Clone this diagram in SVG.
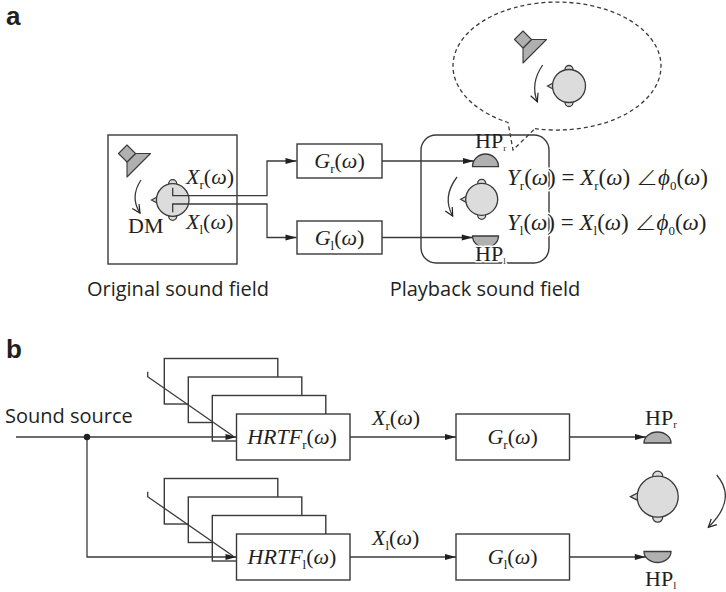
<svg xmlns="http://www.w3.org/2000/svg" width="726" height="592" viewBox="0 0 726 592">
<style>
.ln{fill:none;stroke:#3a3a3a;stroke-width:1.3}
.box{fill:#fff;stroke:#3a3a3a;stroke-width:1.4}
.dash{fill:none;stroke:#3a3a3a;stroke-width:1.3;stroke-dasharray:4 3}
.head{fill:#dcdcdc;stroke:#3a3a3a;stroke-width:1.3}
.spk{fill:#b0b0b0;stroke:#3a3a3a;stroke-width:1.1;stroke-linejoin:round}
.hp{fill:#b0b0b0;stroke:#3a3a3a;stroke-width:1.3}
.m{font-family:"Liberation Serif","Times New Roman",serif;font-size:22px;fill:#231f20}
.eq{font-size:23px}
.i{font-style:italic}
.s{font-size:13px}
.ang{font-family:"Noto Sans CJK JP","Noto Sans CJK SC",sans-serif;font-weight:300;font-size:22px}
.sans{font-family:"Open Sans","Liberation Sans",sans-serif;font-size:20px;fill:#231f20}
.lbl{font-family:"Liberation Sans",Arial,sans-serif;font-weight:bold;font-size:26px;fill:#231f20}
.halo{stroke:#fff;stroke-width:3;paint-order:stroke;stroke-linejoin:round}
</style>
<defs>
  <marker id="arr" markerUnits="userSpaceOnUse" markerWidth="12" markerHeight="8" refX="11" refY="4" orient="auto" overflow="visible">
    <path d="M0,1 L11,4 L0,7 Z" fill="#231f20"/>
  </marker>
  <marker id="open" markerUnits="userSpaceOnUse" markerWidth="10" markerHeight="10" refX="8" refY="4" orient="auto" overflow="visible">
    <path d="M0,0 L8,4 L0,8" fill="none" stroke="#231f20" stroke-width="1.2"/>
  </marker>
  <!-- loudspeaker: rotated square body with a cone facing down-right -->
  <g id="speaker">
    <path class="spk" d="M8.5,0 L23.5,0 L0,23.5 L0,8.5 Z"/>
    <path class="spk" d="M0,-8.5 L8.5,0 L0,8.5 L-8.5,0 Z"/>
  </g>
</defs>

<!-- panel letters -->
<text class="lbl" x="6" y="25">a</text>
<text class="lbl" x="6" y="358">b</text>

<!-- ===== panel a ===== -->
<g id="original-field">
  <rect class="box" x="108" y="135" width="129" height="129"/>
  <use href="#speaker" x="127" y="153.5"/>
  <path class="ln" d="M141,180 Q129.7,197 140,213" marker-end="url(#open)"/>
</g>
<g id="dummy-head">
  <circle class="head" cx="172.7" cy="183.7" r="4"/>
  <circle class="head" cx="172.7" cy="216.3" r="4"/>
  <polygon class="head" points="151.5,200 158,196.5 158,203.5"/>
  <circle class="head" cx="172.7" cy="200" r="16.3"/>
  <text class="m" x="128" y="233" font-size="15">DM</text>
  <text class="m" x="186" y="184"><tspan class="i">X</tspan><tspan class="s" dy="5">r</tspan><tspan dy="-5">(</tspan><tspan class="i">ω</tspan>)</text>
  <text class="m" x="186" y="229"><tspan class="i">X</tspan><tspan class="s" dy="5">l</tspan><tspan dy="-5">(</tspan><tspan class="i">ω</tspan>)</text>
</g>
<text class="sans" x="178" y="296" text-anchor="middle">Original sound field</text>

<g id="filter-gr-a">
  <rect class="box" x="297" y="144" width="85" height="34"/>
  <text class="m" x="339.5" y="168" text-anchor="middle"><tspan class="i">G</tspan><tspan class="s" dy="5">r</tspan><tspan dy="-5">(</tspan><tspan class="i">ω</tspan>)</text>
</g>
<g id="filter-gl-a">
  <rect class="box" x="297" y="221" width="85" height="33"/>
  <text class="m" x="339.5" y="244.5" text-anchor="middle"><tspan class="i">G</tspan><tspan class="s" dy="5">l</tspan><tspan dy="-5">(</tspan><tspan class="i">ω</tspan>)</text>
</g>

<g id="playback-field">
  <rect class="box" x="421" y="135" width="128" height="128" rx="15"/>
  <path class="dash" d="M535,128.6 A104,64 0 1 0 508,122.5 L513,150 Z"/>
  <path class="ln" d="M457,177 Q441.9,197 452.7,216" marker-end="url(#open)"/>
  <circle class="head" cx="481.7" cy="183.3" r="4"/>
  <circle class="head" cx="481.7" cy="215.3" r="4"/>
  <polygon class="head" points="460.7,199.3 467.2,195.8 467.2,202.8"/>
  <circle class="head" cx="481.7" cy="199.3" r="16"/>
  <path class="hp" d="M472.5,166.7 A13,12.7 0 0 1 498.5,166.7 Z"/>
  <path class="hp" d="M472.5,236 A13,11.5 0 0 0 498.5,236 Z"/>
  <text class="m" x="475" y="148" font-size="14">HP<tspan font-size="9" dy="3">r</tspan></text>
  <text class="m halo" x="475" y="261" font-size="14">HP<tspan font-size="9" dy="3">l</tspan></text>
  <text class="m eq halo" x="507" y="185"><tspan class="i">Y</tspan><tspan class="s" dy="5">r</tspan><tspan dy="-5">(</tspan><tspan class="i">ω</tspan><tspan>) = </tspan><tspan class="i">X</tspan><tspan class="s" dy="5">r</tspan><tspan dy="-5">(</tspan><tspan class="i">ω</tspan><tspan>) </tspan><tspan class="ang">∠</tspan><tspan class="i">ϕ</tspan><tspan class="s" dy="5">0</tspan><tspan dy="-5">(</tspan><tspan class="i">ω</tspan>)</text>
  <text class="m eq halo" x="507" y="230"><tspan class="i">Y</tspan><tspan class="s" dy="5">l</tspan><tspan dy="-5">(</tspan><tspan class="i">ω</tspan><tspan>) = </tspan><tspan class="i">X</tspan><tspan class="s" dy="5">l</tspan><tspan dy="-5">(</tspan><tspan class="i">ω</tspan><tspan>) </tspan><tspan class="ang">∠</tspan><tspan class="i">ϕ</tspan><tspan class="s" dy="5">0</tspan><tspan dy="-5">(</tspan><tspan class="i">ω</tspan>)</text>
</g>
<text class="sans" x="485" y="296" text-anchor="middle">Playback sound field</text>

<g id="virtual-field">
  <use href="#speaker" x="523" y="39.5"/>
  <path class="ln" d="M542.7,65 Q530,83.3 537.3,101.7" marker-end="url(#open)"/>
  <circle class="head" cx="569" cy="69.5" r="4"/>
  <circle class="head" cx="569" cy="102.5" r="4"/>
  <polygon class="head" points="547.5,86 554,82.5 554,89.5"/>
  <circle class="head" cx="569" cy="86" r="16.5"/>
</g>

<g id="connectors-a">
  <path class="ln" d="M172.7,187.7 V195.7 H267 V161 H296.5" marker-end="url(#arr)"/>
  <path class="ln" d="M172.7,212.3 V204 H267 V237.5 H296.5" marker-end="url(#arr)"/>
  <path class="ln" d="M382,161 H474" marker-end="url(#arr)"/>
  <path class="ln" d="M382,237.5 H472.8" marker-end="url(#arr)"/>
</g>

<!-- ===== panel b ===== -->
<text class="sans" x="5" y="423" font-size="20.5">Sound source</text>

<g id="hrtf-r">
  <rect class="box" x="164.3" y="358.5" width="113.5" height="45.5"/>
  <rect class="box" x="188.3" y="377" width="113.5" height="45.5"/>
  <rect class="box" x="212.3" y="395.5" width="113.5" height="45.5"/>
  <rect class="box" x="236.5" y="414" width="113.5" height="46"/>
  <text class="m" x="292" y="444" text-anchor="middle"><tspan class="i">HRTF</tspan><tspan class="s" dy="5">r</tspan><tspan dy="-5">(</tspan><tspan class="i">ω</tspan>)</text>
</g>
<g id="hrtf-l">
  <rect class="box" x="164.3" y="478.5" width="113.5" height="45.5"/>
  <rect class="box" x="188.3" y="497" width="113.5" height="45.5"/>
  <rect class="box" x="212.3" y="515.5" width="113.5" height="45.5"/>
  <rect class="box" x="236.5" y="534" width="113.5" height="46"/>
  <text class="m" x="292" y="564" text-anchor="middle"><tspan class="i">HRTF</tspan><tspan class="s" dy="5">l</tspan><tspan dy="-5">(</tspan><tspan class="i">ω</tspan>)</text>
</g>
<g id="filter-gr-b">
  <rect class="box" x="456" y="414" width="113.5" height="46"/>
  <text class="m" x="512.7" y="444" text-anchor="middle"><tspan class="i">G</tspan><tspan class="s" dy="5">r</tspan><tspan dy="-5">(</tspan><tspan class="i">ω</tspan>)</text>
</g>
<g id="filter-gl-b">
  <rect class="box" x="456" y="534" width="113.5" height="46"/>
  <text class="m" x="512.7" y="564" text-anchor="middle"><tspan class="i">G</tspan><tspan class="s" dy="5">l</tspan><tspan dy="-5">(</tspan><tspan class="i">ω</tspan>)</text>
</g>
<g id="listener-b">
  <path class="hp" d="M644,443 A13.5,11 0 0 1 671,443 Z"/>
  <path class="hp" d="M644,551.5 A13.5,11 0 0 0 671,551.5 Z"/>
  <text class="m" x="645" y="425" font-size="18">HP<tspan font-size="11" dy="3">r</tspan></text>
  <text class="m" x="645" y="586" font-size="18">HP<tspan font-size="11" dy="3">l</tspan></text>
  <circle class="head" cx="657.7" cy="476.2" r="5"/>
  <circle class="head" cx="657.7" cy="517.2" r="5"/>
  <polygon class="head" points="630.5,496.7 638.5,492.5 638.5,500.9"/>
  <circle class="head" cx="657.7" cy="496.7" r="20.5"/>
  <path class="ln" d="M716.7,475 Q737.5,499 708.3,527.3" marker-end="url(#open)"/>
</g>

<g id="connectors-b">
  <path class="ln" d="M16,437 H236.5" marker-end="url(#arr)"/>
  <path class="ln" d="M87,437 V557 H236.5" marker-end="url(#arr)"/>
  <circle cx="87" cy="437" r="3.2" fill="#231f20"/>
  <path class="ln" d="M147.7,371.7 V376.7 L233,436"/>
  <path class="ln" d="M147.7,491.7 V496.7 L233,556"/>
  <path class="ln" d="M350,437 H456" marker-end="url(#arr)"/>
  <path class="ln" d="M350,557 H456" marker-end="url(#arr)"/>
  <path class="ln" d="M569.5,437 H646" marker-end="url(#arr)"/>
  <path class="ln" d="M569.5,557 H645.8" marker-end="url(#arr)"/>
  <text class="m" x="372" y="425"><tspan class="i">X</tspan><tspan class="s" dy="5">r</tspan><tspan dy="-5">(</tspan><tspan class="i">ω</tspan>)</text>
  <text class="m" x="372" y="545"><tspan class="i">X</tspan><tspan class="s" dy="5">l</tspan><tspan dy="-5">(</tspan><tspan class="i">ω</tspan>)</text>
</g>
</svg>
